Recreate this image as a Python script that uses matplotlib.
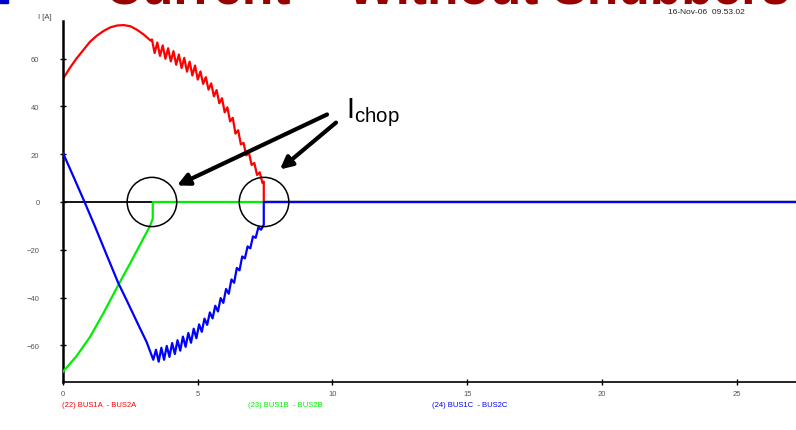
import matplotlib
matplotlib.use("Agg")
import matplotlib.pyplot as plt
from matplotlib.patches import Ellipse, Rectangle

plt.rcParams['font.family'] = ['Liberation Sans', 'DejaVu Sans']
plt.rcParams['mathtext.fontset'] = 'custom'
plt.rcParams['mathtext.rm'] = 'Liberation Sans'

# time in ms, current in A
t_a = [0.0, 0.25, 0.5, 0.75, 1.0, 1.25, 1.5, 1.75, 2.0, 2.25, 2.5, 2.75, 3.0, 3.25,
       3.3, 3.4, 3.5, 3.6, 3.7, 3.8, 3.9, 4.0, 4.1, 4.2, 4.3, 4.4, 4.5, 4.6, 4.7,
       4.8, 4.9, 5.0, 5.1, 5.2, 5.3, 5.4, 5.5, 5.6, 5.7, 5.8, 5.9, 6.0, 6.1, 6.2,
       6.3, 6.4, 6.5, 6.6, 6.7, 6.8, 6.9, 7.0, 7.1, 7.2, 7.3, 7.4, 7.45, 7.45, 27.5]
i_a = [51.5, 56.0, 60.0, 63.5, 67.0, 69.5, 71.5, 73.0, 73.8, 74.0, 73.5, 72.0, 70.0, 67.5,
       68.0, 62.3, 66.7, 61.1, 65.5, 59.9, 64.3, 58.8, 63.1, 57.4, 61.7, 56.0, 60.3, 54.5, 58.7,
       52.9, 57.1, 51.2, 54.6, 49.4, 52.2, 47.0, 49.6, 44.2, 46.8, 41.3, 43.4, 37.5, 39.6, 33.7,
       35.2, 28.6, 30.0, 24.1, 24.7, 19.5, 20.5, 15.5, 16.3, 11.3, 12.4, 8.0, 8.5, 0.0, 0.0]

t_b = [0.0, 0.5, 1.0, 1.5, 2.04, 2.5, 2.9, 3.23, 3.33, 3.33, 27.5]
i_b = [-71.0, -64.5, -56.5, -46.5, -35.0, -25.5, -17.0, -10.0, -7.0, 0.0, 0.0]

t_c = [0.0, 0.4, 0.8, 1.2, 1.6, 2.04, 2.4, 2.8, 3.1, 3.35,
       3.45, 3.55, 3.65, 3.75, 3.85, 3.95, 4.05, 4.15, 4.25, 4.35, 4.45, 4.55, 4.65,
       4.75, 4.85, 4.95, 5.05, 5.15, 5.25, 5.35, 5.45, 5.55, 5.65, 5.75, 5.85, 5.95,
       6.05, 6.15, 6.25, 6.35, 6.45, 6.55, 6.65, 6.75, 6.85, 6.95, 7.05, 7.15, 7.25,
       7.35, 7.45, 7.45, 27.5]
i_c = [20.5, 10.3, 0.0, -10.6, -21.6, -33.6, -42.0, -51.5, -58.5, -66.0,
       -61.8, -66.8, -61.0, -66.0, -60.2, -64.8, -59.0, -63.6, -57.8, -62.2, -56.3, -60.6, -54.8,
       -58.9, -53.0, -57.0, -51.2, -54.3, -48.8, -51.4, -46.2, -48.7, -43.4, -45.8, -40.2, -42.2,
       -36.4, -38.4, -32.4, -33.8, -27.6, -28.6, -22.8, -23.6, -18.6, -19.4, -14.4, -15.0, -10.6,
       -11.6, -9.5, 0.0, 0.0]

x_ticks = [0, 5, 10, 15, 20, 25]
y_ticks = [-60, -40, -20, 0, 20, 40, 60]
chop_times = [3.3, 7.46]
legend_labels = ["(22) BUS1A  - BUS2A", "(23) BUS1B  - BUS2B", "(24) BUS1C  - BUS2C"]

W, H = 796, 431
fig = plt.figure(figsize=(W / 100, H / 100), dpi=100)
ax = fig.add_axes([63 / W, 48 / H, 733 / W, 361 / H])

ax.axhline(0, color='black', lw=1.3, zorder=1)
ax.plot(t_a, i_a, color='#ff0000', lw=1.6, zorder=2)
ax.plot(t_b, i_b, color='#00ee00', lw=1.6, zorder=3)
ax.plot(t_c, i_c, color='#0000ff', lw=1.6, zorder=4)

ax.set_xlim(0, 27.2)
ax.set_ylim(-75.3, 75.7)
ax.set_xticks(x_ticks)
ax.set_yticks(y_ticks)
ax.tick_params(direction='inout', length=4, width=1, labelsize=5.5,
               labelcolor='#555555')
ax.tick_params(axis='y', pad=15)
ax.tick_params(axis='x', pad=4)
for s in ['top', 'right']:
    ax.spines[s].set_visible(False)
ax.spines['left'].set_linewidth(1.8)
ax.spines['bottom'].set_linewidth(1.2)

# circles around the chopping points
for tc in chop_times:
    ax.add_patch(Ellipse((tc, 0), 1.84, 20.6, fill=False, ec='black', lw=1.1, zorder=6))

arrow = dict(arrowstyle='-|>', lw=3, color='black', mutation_scale=18,
             shrinkA=0, shrinkB=0)
ax.annotate('', xy=(4.23, 6.9), xytext=(9.8, 36.6), arrowprops=arrow, zorder=7)
ax.annotate('', xy=(8.05, 13.6), xytext=(10.13, 33.2), arrowprops=arrow, zorder=7)
ax.text(10.5, 35.3, r'$\mathrm{I}_{\mathrm{chop}}$', fontsize=21, ha='left',
        va='baseline', zorder=8)

# slide heading, mostly above the top edge
fig.text(105 / W, 1 - 4 / H, "Current \u2013 Without Snubbers", fontsize=37,
         fontweight='bold', color='#990000', ha='left', va='baseline', zorder=1)
fig.patches.append(Rectangle((0, 1 - 4 / H), 8 / W, 4 / H, transform=fig.transFigure,
                             color='#0000cc', figure=fig))
fig.text(38 / W, 1 - 19 / H, "I [A]", fontsize=5.5, color='#444444', va='baseline')
fig.text(668 / W, 1 - 14 / H, "16-Nov-06  09.53.02", fontsize=6, color='#222222',
         va='baseline', zorder=3)

legend_x = [62, 248, 432]
legend_colors = ['#ff0000', '#00ee00', '#0000ff']
for lx, lab, c in zip(legend_x, legend_labels, legend_colors):
    fig.text(lx / W, 1 - 406 / H, lab, fontsize=5.5, color=c, va='center')

fig.savefig("out.png", dpi=100)
